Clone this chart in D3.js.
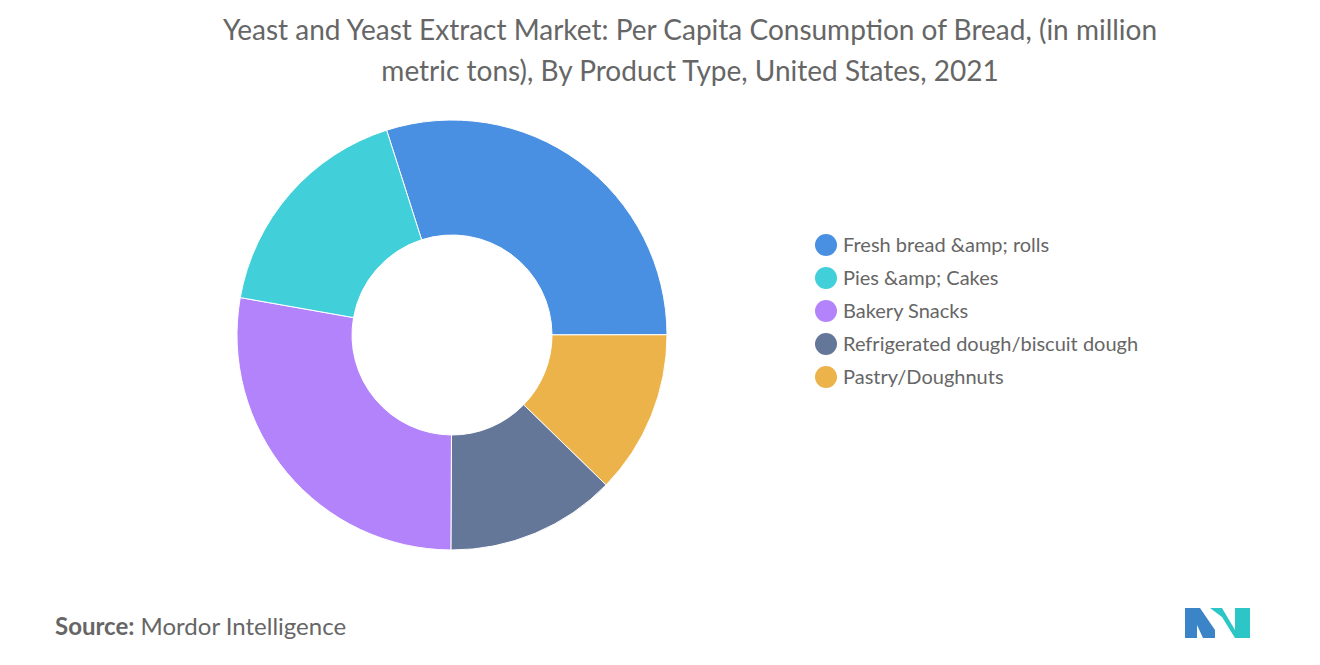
<!DOCTYPE html>
<html><head><meta charset="utf-8">
<script src="https://cdn.jsdelivr.net/npm/d3@7"></script>
<style>body{margin:0;background:#fff;font-family:Lato,"Open Sans",sans-serif}</style>
</head><body><svg id="c" width="1320" height="665"></svg>
<script>
const categories=["Fresh bread &amp; rolls","Pies &amp; Cakes","Bakery Snacks","Refrigerated dough/biscuit dough","Pastry/Doughnuts"];
const values=[29.9,17.3,27.7,12.8,12.3];
const colors=["#4a90e2","#41d0d9","#b383fc","#657799","#ecb34a"];
const drawOrder=[0,4,3,2,1];
const svg=d3.select("#c");
svg.append("text").attr("x",690).attr("y",40).attr("text-anchor","middle").attr("fill","#666").attr("font-size",28).text("Yeast and Yeast Extract Market: Per Capita Consumption of Bread, (in million");
svg.append("text").attr("x",690).attr("y",81).attr("text-anchor","middle").attr("fill","#666").attr("font-size",28).text("metric tons), By Product Type, United States, 2021");
const start=-17.7*Math.PI/180;
const pie=d3.pie().sort(null).value(i=>values[i]).startAngle(start).endAngle(start+2*Math.PI);
const arc=d3.arc().innerRadius(100).outerRadius(215);
const g=svg.append("g").attr("transform","translate(452,335)");
g.selectAll("path").data(pie(drawOrder)).join("path").attr("d",arc).attr("fill",d=>colors[d.data]).attr("stroke","#fff").attr("stroke-width",1);
const lg=svg.append("g");
categories.forEach((c,i)=>{
  const y=245+i*33;
  lg.append("circle").attr("cx",826).attr("cy",y).attr("r",11).attr("fill",colors[i]);
  lg.append("text").attr("x",843).attr("y",y+7).attr("font-size",20).attr("fill","#666").text(c);
});
const s=svg.append("text").attr("x",55).attr("y",635).attr("font-size",24).attr("fill","#666");
s.append("tspan").attr("font-weight","bold").text("Source:");
s.append("tspan").text("  Mordor Intelligence");
const L=svg.append("g");
L.append("path").attr("d","M1185,638 L1185,608 L1200,608 L1215,630 L1215,638 L1203,638 L1197,625 L1197,638 Z").attr("fill","#3a84c7");
L.append("path").attr("d","M1210,608 L1222,608 L1235,630 L1235,608 L1250,608 L1250,638 L1235,638 L1222,617 Z").attr("fill","#2dc6c6");
</script></body></html>
